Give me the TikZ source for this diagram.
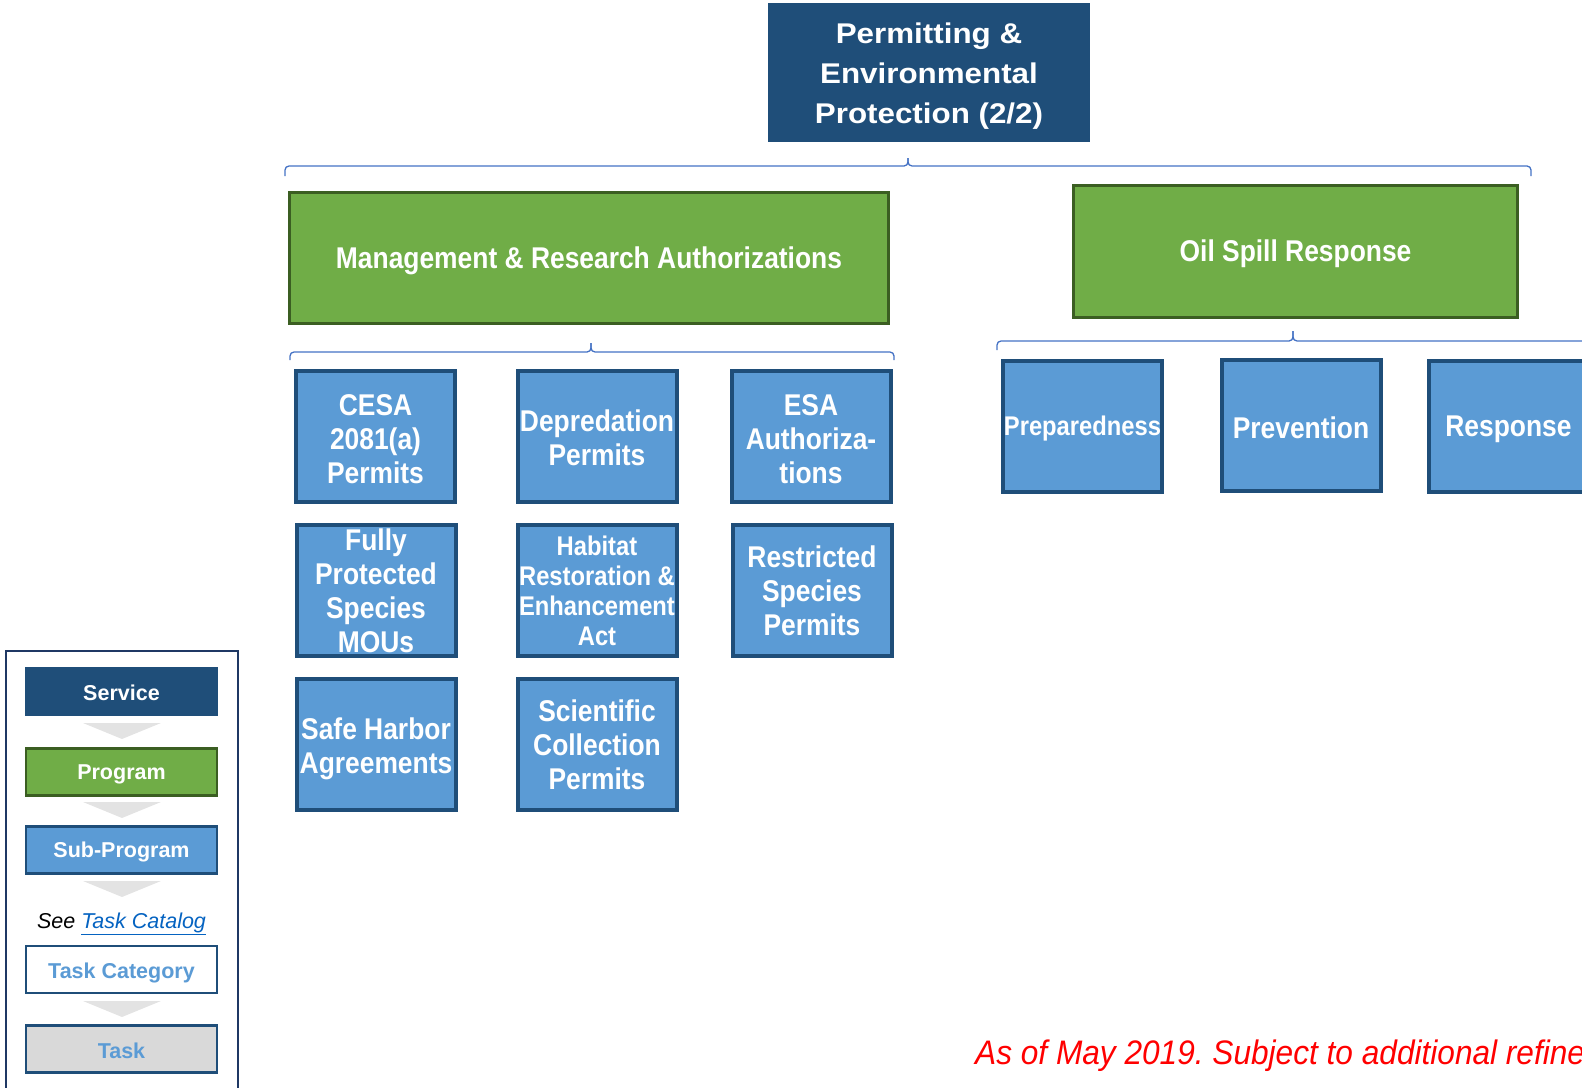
\documentclass[tikz,border=0pt]{standalone}
\usepackage{fontspec}
\setmainfont{Liberation Sans}
\newfontfamily\boxfont{Liberation Sans}[FakeStretch=0.88]
\newfontfamily\notefont{Liberation Sans}[FakeStretch=0.93]
\newfontfamily\headfont{Liberation Sans}[FakeStretch=1.1]
\newcommand\pptstrut{\rule{0pt}{0.905em}}
\definecolor{svcblue}{HTML}{1F4E79}
\definecolor{proggreen}{HTML}{70AD47}
\definecolor{progedge}{HTML}{3B5E22}
\definecolor{subblue}{HTML}{5B9BD5}
\definecolor{lineblue}{HTML}{4472C4}
\definecolor{frameblue}{HTML}{1F3864}
\definecolor{chevgray}{HTML}{E3E3E3}
\definecolor{taskgray}{HTML}{D9D9D9}
\definecolor{linkblue}{HTML}{0563C1}
\tikzset{
  ppt/.style={execute at begin node=\pptstrut},
  service/.style={ppt, fill=svcblue, text=white, align=center, inner sep=0pt,
    font=\headfont\bfseries\fontsize{28.5}{40}\selectfont},
  program/.style={ppt, fill=proggreen, draw=progedge, line width=3pt, text=white, inner sep=0pt,
    font=\boxfont\bfseries\fontsize{30}{34}\selectfont},
  subprog/.style={ppt, fill=subblue, draw=svcblue, line width=4pt, text=white, align=center,
    minimum width=159pt, minimum height=131pt, inner sep=0pt,
    font=\boxfont\bfseries\fontsize{30}{34}\selectfont},
  smalltext/.style={font=\boxfont\bfseries\fontsize{27}{30}\selectfont},
  bracket/.style={draw=lineblue, line width=1.3pt, rounded corners=4pt},
  legbox/.style={ppt, minimum width=191pt, minimum height=47pt, inner sep=0pt,
    font=\bfseries\fontsize{21.5}{24}\selectfont},
  chevron/.style={fill=chevgray}
}

\begin{document}
\begin{tikzpicture}[x=1pt,y=-1pt]
    \useasboundingbox (0,0) rectangle (1582,1087);

    \node[service, minimum width=322pt, minimum height=139pt] (pep) at (929,72)
        {\rule{0pt}{29pt}Permitting \&\\Environmental\\Protection (2/2)};

    \node[program, minimum width=599pt, minimum height=131pt] (mra) at (589,258)
        {Management \& Research Authorizations};
    \node[program, minimum width=444pt, minimum height=132pt] (osr) at (1295.5,251.5)
        {Oil Spill Response};

    \node[subprog] (cesa) at (375.5,436.5) {\rule{0pt}{26pt}CESA\\2081(a)\\Permits};
    \node[subprog] (depr) at (597,436.5) {\rule{0pt}{24pt}Depredation\\Permits};
    \node[subprog] (esa)  at (811,436.5) {\rule{0pt}{26pt}ESA\\Authoriza-\\tions};

    \node[subprog] (fps)  at (376,590.5) {Fully\\Protected\\Species\\MOUs};
    \node[subprog, smalltext] (hrea) at (597,590.5) {Habitat\\Restoration \&\\Enhancement\\Act};
    \node[subprog] (rsp)  at (812,590.5) {Restricted\\Species\\Permits};

    \node[subprog] (sha)  at (376,744.5) {\rule{0pt}{30pt}Safe Harbor\\Agreements};
    \node[subprog] (scp)  at (597,744.5) {Scientific\\Collection\\Permits};

    \node[subprog, smalltext] (prep) at (1082.5,426.5) {Preparedness};
    \node[subprog] (prev) at (1301,425.5) {Prevention};
    \node[subprog] (resp) at (1508.5,426.5) {Response};

    \coordinate (br0a) at (285,176);
    \coordinate (br0b) at (1531,176);
    \coordinate (br0c) at (908,158);
    \draw[bracket] (br0a) -- ++(0,-10) -| (br0c);
    \draw[bracket] (br0b) -- ++(0,-10) -| (br0c);

    \coordinate (br1a) at (290,360);
    \coordinate (br1b) at (894,360);
    \coordinate (br1c) at (591,343);
    \draw[bracket] (br1a) -- ++(0,-8) -| (br1c);
    \draw[bracket] (br1b) -- ++(0,-8) -| (br1c);

    \coordinate (br2a) at (997,350);
    \coordinate (br2b) at (1600,350);
    \coordinate (br2c) at (1293,331);
    \draw[bracket] (br2a) -- ++(0,-9) -| (br2c);
    \draw[bracket] (br2b) -- ++(0,-9) -| (br2c);

    \draw[frameblue, line width=2pt] (6,1100) |- (238,651) -- (238,1100);

    \node[legbox, fill=svcblue, text=white, minimum width=193pt, minimum height=49pt] (lsvc) at (121.5,691) {Service};
    \node[legbox, fill=proggreen, draw=progedge, line width=2.5pt, text=white] (lprog) at (121.5,772) {Program};
    \node[legbox, fill=subblue, draw=svcblue, line width=2.5pt, text=white] (lsub) at (121.5,850) {Sub-Program};
    \node[ppt, font=\itshape\fontsize{21.5}{24}\selectfont] (lsee) at (121.5,922)
        {See \textcolor{linkblue}{\underline{Task Catalog}}};
    \node[legbox, fill=white, draw=svcblue, line width=2.5pt, text=subblue] (lcat) at (121.5,969.5) {\rule{0pt}{22pt}Task Category};
    \node[legbox, fill=taskgray, draw=svcblue, line width=2.5pt, text=subblue] (ltask) at (121.5,1049) {Task};

    \foreach \cy in {723,802,881,1001}
        \fill[chevron] (83,\cy) -- (161,\cy) -- (122,\cy+16) -- cycle;

    \node[anchor=base west, inner sep=0pt, text=red,
        font=\notefont\itshape\fontsize{34}{40}\selectfont] (note) at (975,1064)
        {As of May 2019.\ Subject to additional refinement.};
\end{tikzpicture}
\end{document}
